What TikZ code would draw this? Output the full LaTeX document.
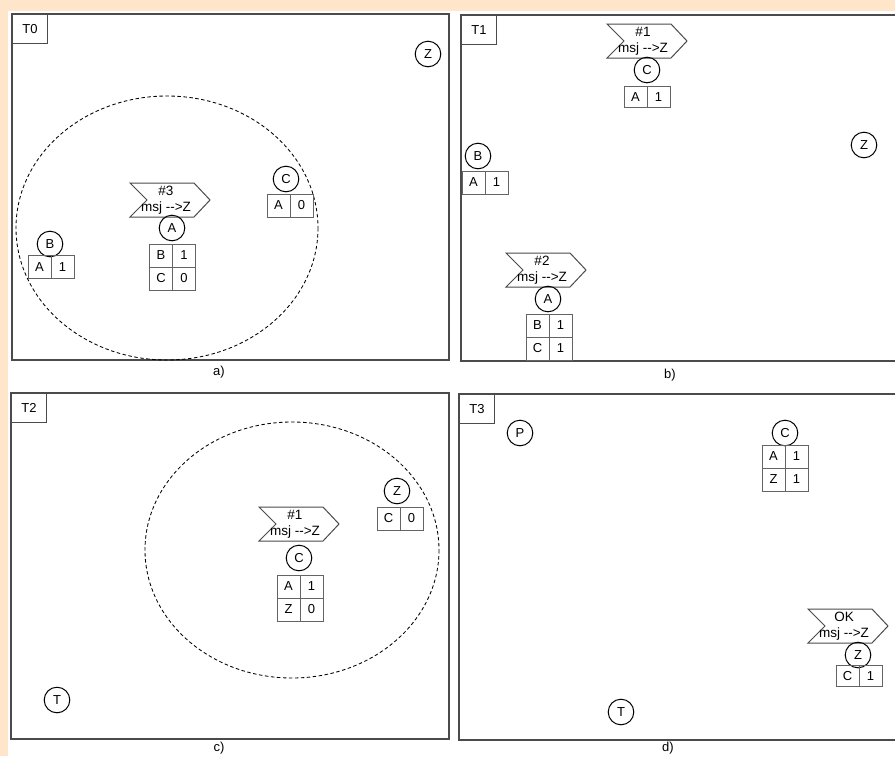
\documentclass[tikz,border=0pt]{standalone}
\usepackage{fontspec}
\setmainfont{Liberation Sans}
\definecolor{peach}{RGB}{255,229,202}
\definecolor{frame}{RGB}{75,75,75}
\definecolor{cellline}{RGB}{100,100,100}
\tikzset{
  panel/.style={draw=frame, line width=1.3pt, fill=white},
  tbox/.style={draw=frame, line width=1pt, anchor=north west, minimum width=35pt, minimum height=29pt, inner sep=0pt, font=\fontsize{13}{15}\selectfont},
  agent/.style={circle, draw=black, line width=1pt, minimum size=25.6pt, inner sep=0pt, font=\fontsize{13}{15}\selectfont},
  cell/.style={draw=cellline, line width=1pt, minimum width=23pt, minimum height=23pt, inner sep=0pt, font=\fontsize{13}{15}\selectfont},
  cellshort/.style={cell, minimum height=21pt},
  flagline/.style={draw=frame, line width=1pt, line join=miter},
  flagtext/.style={align=center, inner sep=0pt, font=\fontsize{13.5}{16}\selectfont},
  zone/.style={draw=black, line width=0.85pt, dash pattern=on 3.5pt off 2.5pt},
  captext/.style={inner sep=0pt, font=\fontsize{13}{15}\selectfont}
}
\newcommand\myflag[4]{%
  \draw[flagline] (#2,#3) -- ++(64,0) -- ++(16,17) -- ++(-16,17) -- ++(-64,0) -- ++(17,-17) -- cycle;
  \node[flagtext] (#1) at (#2+36,#3+17) {#4};}
\begin{document}
\begin{tikzpicture}[x=1pt,y=-1pt]
\useasboundingbox (0,0) rectangle (895,756);
\clip (0,0) rectangle (895,756);
\fill[peach] (0,0) rectangle (895,756);
\fill[white] (8,11) rectangle (895,756);

% ---------- panel a ----------
\draw[panel] (12,14) rectangle (449,360);
\node[tbox] (t0) at (12,14) {T0};
\draw[zone] (167,228) ellipse [x radius=151, y radius=132];
\node[agent] (aZ) at (428,54) {Z};
\myflag{aM}{130}{183}{\#3\\msj -{}->Z}
\node[agent] (aA) at (172,228) {A};
\node[cell] (aA11) at (161,255.5) {B};
\node[cell] (aA12) at (184,255.5) {1};
\node[cell] (aA21) at (161,278.5) {C};
\node[cell] (aA22) at (184,278.5) {0};
\node[agent] (aB) at (50,244) {B};
\node[cell] (aB11) at (39.5,267) {A};
\node[cell] (aB12) at (62.5,267) {1};
\node[agent] (aC) at (286,179) {C};
\node[cell] (aC11) at (278.5,205.5) {A};
\node[cell] (aC12) at (301.5,205.5) {0};
\node[captext] (capa) at (219,372) {a)};

% ---------- panel b ----------
\draw[panel] (461,15) rectangle (905,361);
\node[tbox] (t1) at (461,15) {T1};
\myflag{bM1}{607}{24}{\#1\\msj -{}->Z}
\node[agent] (bC) at (647,70) {C};
\node[cellshort] (bC11) at (635.5,97) {A};
\node[cellshort] (bC12) at (658.5,97) {1};
\node[agent] (bB) at (478,156) {B};
\node[cell] (bB11) at (473.5,182.5) {A};
\node[cell] (bB12) at (496.5,182.5) {1};
\node[agent] (bZ) at (864,145) {Z};
\myflag{bM2}{506}{253}{\#2\\msj -{}->Z}
\node[agent] (bA) at (548,299) {A};
\node[cell] (bA11) at (537.5,325.5) {B};
\node[cell] (bA12) at (560.5,325.5) {1};
\node[cell] (bA21) at (537.5,348.5) {C};
\node[cell] (bA22) at (560.5,348.5) {1};
\node[captext] (capb) at (670,375) {b)};

% ---------- panel c ----------
\draw[panel] (11,393) rectangle (449,739);
\node[tbox] (t2) at (11,393) {T2};
\draw[zone] (292,550) ellipse [x radius=147, y radius=128];
\myflag{cM}{259}{507}{\#1\\msj -{}->Z}
\node[agent] (cC) at (299,558) {C};
\node[cell] (cC11) at (288.5,586.5) {A};
\node[cell] (cC12) at (311.5,586.5) {1};
\node[cell] (cC21) at (288.5,609.5) {Z};
\node[cell] (cC22) at (311.5,609.5) {0};
\node[agent] (cZ) at (397,491) {Z};
\node[cell] (cZ11) at (388.5,518.5) {C};
\node[cell] (cZ12) at (411.5,518.5) {0};
\node[agent] (cT) at (57,700) {T};
\node[captext] (capc) at (219,748.5) {c)};

% ---------- panel d ----------
\draw[panel] (459,394) rectangle (905,740);
\node[tbox] (t3) at (459,394) {T3};
\node[agent] (dP) at (520,433) {P};
\node[agent] (dC) at (785,433) {C};
\node[cell] (dC11) at (773.5,456.5) {A};
\node[cell] (dC12) at (796.5,456.5) {1};
\node[cell] (dC21) at (773.5,479.5) {Z};
\node[cell] (dC22) at (796.5,479.5) {1};
\myflag{dM}{808}{609}{OK\\msj -{}->Z}
\node[agent] (dZ) at (858,655) {Z};
\node[cellshort] (dZ11) at (847.5,676) {C};
\node[cellshort] (dZ12) at (870.5,676) {1};
\node[agent] (dT) at (621,712) {T};
\node[captext] (capd) at (668,748.5) {d)};
\end{tikzpicture}
\end{document}
